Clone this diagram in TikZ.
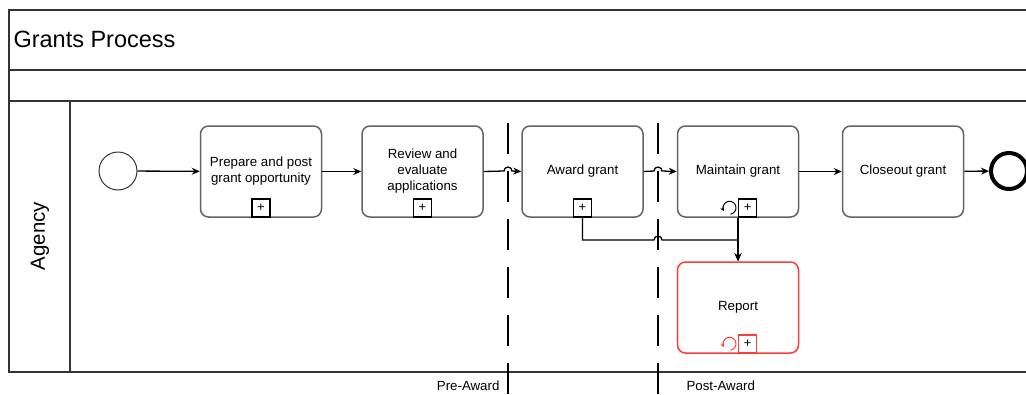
\documentclass[tikz,border=0pt]{standalone}
\usepackage{fontspec}
\setmainfont{Liberation Sans}
\usetikzlibrary{arrows.meta}

\definecolor{poolgray}{RGB}{51,51,51}
\definecolor{taskgray}{RGB}{100,100,100}
\definecolor{reportred}{RGB}{255,60,60}

\tikzset{
    task/.style={draw=taskgray, line width=1.5pt, rounded corners=8pt,
        minimum width=121pt, minimum height=91pt, inner sep=0pt,
        align=center, font=\fontsize{13.3}{16}\selectfont},
    plusbox/.style={draw, line width=1.3pt, minimum size=18pt, inner sep=0pt,
        font=\fontsize{13}{13}\selectfont},
    flow/.style={line width=1.3pt, -{Stealth[length=8pt, width=7pt]}},
    loopmark/.style={line width=1pt, -{Stealth[length=4pt, width=4pt]}},
    phase/.style={line width=1.5pt, dash pattern=on 31pt off 17pt},
}

\begin{document}
\begin{tikzpicture}[x=1pt, y=-1pt]

    % drawing parameters
    \def\pre{508}  % pre-award boundary
    \def\post{658} % post-award boundary
    \def\jr{4}     % jump radius

    \useasboundingbox (0,0) rectangle (1026,394);
    \clip (0,0) rectangle (1026,394);

    % pool and lane
    \draw[poolgray, line width=1.6pt]
        (1040,10) -- (9,10) -- (9,372) -- (1040,372);
    \draw[poolgray, line width=1.6pt] (9,70) -- (1040,70);
    \draw[poolgray, line width=1.6pt] (9,101) -- (1040,101);
    \draw[poolgray, line width=1.6pt] (70,101) -- (70,372);

    % label the pool and the lane
    \node[anchor=west, font=\fontsize{23.5}{28}\selectfont] (title) at (10,39) {Grants Process};
    \node[rotate=90, font=\fontsize{20.4}{24}\selectfont] (agency) at (40,236) {Agency};

    % phase boundaries
    \foreach \x in {\pre,\post} {
        \draw[phase] (\x,123) -- (\x,372);
        \draw[line width=1.5pt] (\x,365) -- (\x,394);
    }
    \node[anchor=east, font=\fontsize{13.3}{16}\selectfont] (preaward) at (503,386) {Pre-Award};
    \node[anchor=west, font=\fontsize{13.3}{16}\selectfont] (postaward) at (683,386) {Post-Award};

    % events
    \node[circle, draw=poolgray, line width=1pt, minimum size=38pt, inner sep=0pt] (start) at (118,171) {};
    \node[circle, draw, line width=4pt, minimum size=36pt, inner sep=0pt] (end) at (1009,171) {};

    % tasks
    \node[task] (prepare) at (261,171.5) {Prepare and post\\grant opportunity};
    \node[task] (review) at (422.5,171.5) {Review and\\evaluate\\applications};
    \node[task] (award) at (582.5,171.5) {Award grant};
    \node[task] (maintain) at (738,171.5) {Maintain grant};
    \node[task] (closeout) at (903,171.5) {Closeout grant};
    \node[task, draw=reportred] (report) at (738,307.5) {Report};

    % sub-process markers
    \node[plusbox, anchor=south] (prepareplus) at (prepare.south) {+};
    \node[plusbox, anchor=south] (reviewplus) at (review.south) {+};
    \node[plusbox, anchor=south] (awardplus) at (award.south) {+};
    \node[plusbox, anchor=south west] (maintainplus) at (maintain.south) {+};
    \node[plusbox, draw=reportred, anchor=south west] (reportplus) at (report.south) {+};
    \draw[loopmark] ([shift={(-8.5,-10)}]maintain.south) ++(80:6.5)
        arc[start angle=80, end angle=-210, radius=6.5];
    \draw[loopmark, reportred] ([shift={(-8.5,-10)}]report.south) ++(80:6.5)
        arc[start angle=80, end angle=-210, radius=6.5];

    % sequence flows
    \draw[flow] (start) -- (prepare);
    \draw[flow] (prepare) -- (review);
    \draw[flow] (review.east) -- (\pre-\jr,171)
        arc[start angle=180, end angle=360, radius=\jr] -- (award.west);
    \draw[flow] (award.east) -- (\post-\jr,171)
        arc[start angle=180, end angle=360, radius=\jr] -- (maintain.west);
    \draw[flow] (maintain) -- (closeout);
    \draw[flow] (closeout) -- (end);
    \draw[flow] (maintain.south) -- (report.north);
    \draw[flow] (awardplus.south) -- (582.5,240) -- (\post-\jr,240)
        arc[start angle=180, end angle=360, radius=\jr] -- (738,240) -- (report.north);

\end{tikzpicture}
\end{document}
